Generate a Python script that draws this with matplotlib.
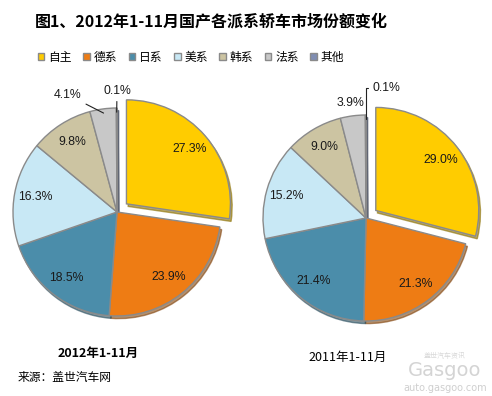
import matplotlib

matplotlib.use("Agg")
import matplotlib.pyplot as plt
import numpy as np

plt.rcParams["font.family"] = ["Noto Sans CJK SC", "DejaVu Sans"]

# data
brands = ["自主", "德系", "日系", "美系", "韩系", "法系", "其他"]
share_2012 = [27.3, 23.9, 18.5, 16.3, 9.8, 4.1, 0.1]
share_2011 = [29.0, 21.3, 21.4, 15.2, 9.0, 3.9, 0.1]
colors = ["#FFCC00", "#EE7C14", "#4B8DAA", "#C8E8F5", "#CCC4A2", "#C8C8C8", "#7F8DB2"]

W, H = 492, 396
fig = plt.figure(figsize=(W / 100, H / 100), dpi=100)
fig.patch.set_facecolor("white")


def pie_axes(cx, cy, r, half=140):
    # cx, cy, r in pixels (image coords, y down)
    ax = fig.add_axes([(cx - half) / W, (H - cy - half) / H, 2 * half / W, 2 * half / H])
    lim = half / r
    return ax, lim


def draw_pie(ax, lim, values, outside):
    wedges, _ = ax.pie(
        values,
        colors=colors,
        startangle=90,
        counterclock=False,
        explode=[0.12] + [0] * (len(values) - 1),
        wedgeprops=dict(edgecolor="#8a8a8a", linewidth=1.0),
        shadow=dict(ox=0.012, oy=-0.018, shade=0.45, alpha=0.6),
    )
    for i, (w, v) in enumerate(zip(wedges, values)):
        ang = np.deg2rad((w.theta1 + w.theta2) / 2)
        cx, cy = w.center
        txt = f"{v:.1f}%"
        style = dict(ha="center", va="center", fontsize=8.8,
                     family="Liberation Sans", color="#1a1a1a")
        if i in outside:
            tx, ty, leader = outside[i]
            if leader is None:
                ax.text(tx, ty, txt, **style)
            else:
                ax.annotate(txt, xy=(cx + 0.96 * np.cos(ang), cy + 0.96 * np.sin(ang)),
                            xytext=(tx, ty), **style,
                            arrowprops=dict(arrowstyle="-", color="#222222", lw=0.8,
                                            shrinkA=1, shrinkB=0,
                                            connectionstyle=leader))
        else:
            ax.text(cx + 0.8 * np.cos(ang), cy + 0.8 * np.sin(ang), txt, **style)
    ax.set_xlim(-lim, lim)
    ax.set_ylim(-lim, lim)
    ax.set_aspect("equal")
    ax.axis("off")
    return wedges


ax1, lim1 = pie_axes(117, 212, 104)
wedges = draw_pie(ax1, lim1, share_2012, {
    5: (-0.47, 1.125, "arc3,rad=0"),
    6: (0.0, 1.16, "arc3,rad=0"),
})

ax2, lim2 = pie_axes(366, 218, 103)
draw_pie(ax2, lim2, share_2011, {
    5: (-0.15, 1.115, None),
    6: (0.2, 1.26, "angle,angleA=0,angleB=90,rad=0"),
})

fig.text(35 / W, 1 - 22 / H, "图1、2012年1-11月国产各派系轿车市场份额变化",
         fontsize=11.5, fontweight="bold", va="center", ha="left")

fig.legend(wedges, brands, loc="center left", bbox_to_anchor=(38 / W, 1 - 57 / H),
           ncol=7, frameon=False, fontsize=8.5, handlelength=0.55, handleheight=0.55,
           handletextpad=0.35, columnspacing=0.95, borderaxespad=0, borderpad=0)

fig.text(98 / W, 1 - 353 / H, "2012年1-11月", fontsize=9, fontweight="bold",
         ha="center", va="center")
fig.text(348 / W, 1 - 357 / H, "2011年1-11月", fontsize=9, ha="center", va="center")
fig.text(18 / W, 1 - 378 / H, "来源：盖世汽车网", fontsize=8.5, ha="left", va="center")

# watermark
fig.text(445 / W, 1 - 356 / H, "盖世汽车资讯", fontsize=5, color="#d8d8d8",
         ha="center", va="center")
fig.text(445 / W, 1 - 371 / H, "Gasgoo", fontsize=14, color="#d4d4d4",
         ha="center", va="center", family="DejaVu Sans")
fig.text(445 / W, 1 - 388 / H, "auto.gasgoo.com", fontsize=7, color="#cfcfcf",
         ha="center", va="center", family="DejaVu Sans")

fig.savefig("out.png", dpi=100)
